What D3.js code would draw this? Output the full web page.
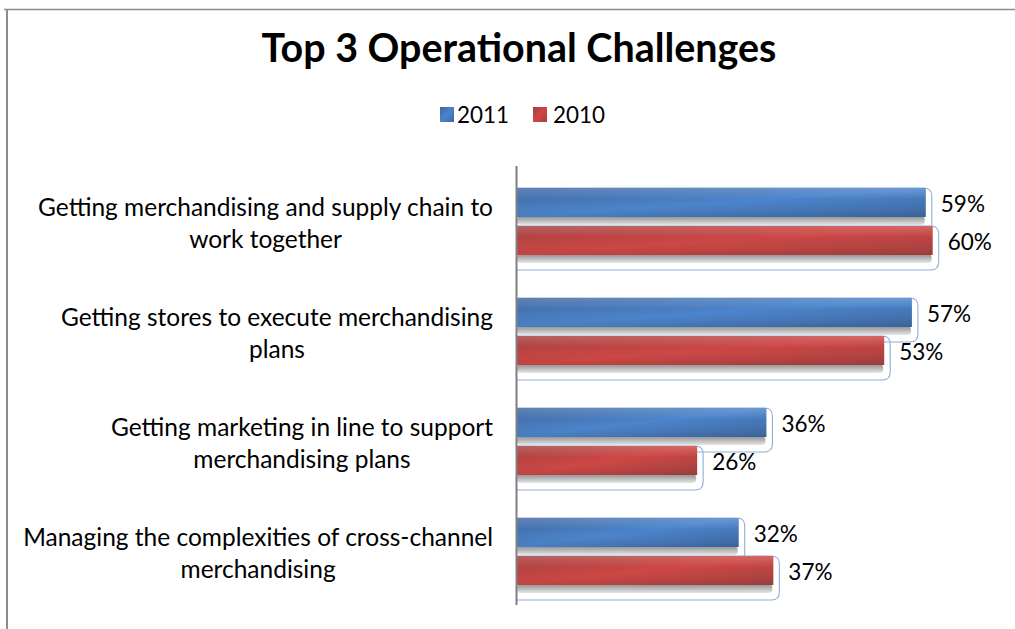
<!DOCTYPE html>
<html>
<head>
<meta charset="utf-8">
<script src="https://cdn.jsdelivr.net/npm/d3@7"></script>
<style>
  html, body { margin: 0; padding: 0; background: #fff; }
  svg { display: block; }
  text { font-family: Lato, "Open Sans", "DejaVu Sans", sans-serif; fill: #000; }
</style>
</head>
<body>
<svg id="chart" width="1015" height="629"></svg>
<script>
// Chart data
const title = "Top 3 Operational Challenges";
const categories = [
  "Getting merchandising and supply chain to work together",
  "Getting stores to execute merchandising plans",
  "Getting marketing in line to support merchandising plans",
  "Managing the complexities of cross-channel merchandising"
];
const categoryLines = [
  ["Getting merchandising and supply chain to", "work together"],
  ["Getting stores to execute merchandising", "plans"],
  ["Getting marketing in line to support", "merchandising plans"],
  ["Managing the complexities of cross-channel", "merchandising"]
];
const seriesNames = ["2011", "2010"];
const values2011 = [59, 57, 36, 32];
const values2010 = [60, 53, 26, 37];

const svg = d3.select("#chart");
const W = 1015, H = 629;

const x = d3.scaleLinear().domain([0, 70]).range([517, 1002]);
const y = d3.scaleBand().domain(categories).range([165, 605]).paddingInner(0).paddingOuter(0);
const ySeries = d3.scaleBand().domain(seriesNames).range([23, 90]).paddingInner(0.237).paddingOuter(0);

const colors = {
  "2011": ["#3f67a0", "#4a84cb", "#3d66a0"],
  "2010": ["#a43f3d", "#cd4644", "#a23f3d"]
};

const defs = svg.append("defs");
seriesNames.forEach(s => {
  const g = defs.append("linearGradient").attr("id", "grad" + s)
    .attr("x1", "0").attr("y1", "0").attr("x2", "1").attr("y2", "1");
  g.append("stop").attr("offset", "0%").attr("stop-color", colors[s][0]);
  g.append("stop").attr("offset", "50%").attr("stop-color", colors[s][1]);
  g.append("stop").attr("offset", "100%").attr("stop-color", colors[s][2]);
  const sq = defs.append("linearGradient").attr("id", "sq" + s)
    .attr("x1", "0").attr("y1", "0").attr("x2", "1").attr("y2", "1");
  sq.append("stop").attr("offset", "0%").attr("stop-color", colors[s][0]);
  sq.append("stop").attr("offset", "50%").attr("stop-color", colors[s][1]);
  sq.append("stop").attr("offset", "100%").attr("stop-color", colors[s][2]);
});
const sh = defs.append("linearGradient").attr("id", "shadow")
  .attr("x1", "0").attr("y1", "0").attr("x2", "0").attr("y2", "1");
sh.append("stop").attr("offset", "0%").attr("stop-color", "#8f8f8f");
sh.append("stop").attr("offset", "45%").attr("stop-color", "#b4b4b4");
sh.append("stop").attr("offset", "100%").attr("stop-color", "#e6e6e6");
const topHi = defs.append("linearGradient").attr("id", "tophi")
  .attr("x1", "0").attr("y1", "0").attr("x2", "0").attr("y2", "1");
topHi.append("stop").attr("offset", "0%").attr("stop-color", "#fff").attr("stop-opacity", 0.18);
topHi.append("stop").attr("offset", "40%").attr("stop-color", "#fff").attr("stop-opacity", 0);
topHi.append("stop").attr("offset", "100%").attr("stop-color", "#000").attr("stop-opacity", 0.05);

// Frame
svg.append("line").attr("x1", 4).attr("x2", W).attr("y1", 9.5).attr("y2", 9.5)
  .attr("stroke", "#8c8c8c").attr("stroke-width", 1.5);
svg.append("line").attr("x1", 7).attr("x2", 7).attr("y1", 9).attr("y2", H)
  .attr("stroke", "#8c8c8c").attr("stroke-width", 2);

// Fit a text element to a target width by adjusting its font size
function fit(sel, target) {
  const node = sel.node();
  const fs = parseFloat(sel.attr("font-size"));
  const w = node.getComputedTextLength();
  sel.attr("font-size", (fs * target / w).toFixed(2));
}

// Title
const t = svg.append("text").attr("x", 519).attr("y", 62)
  .attr("text-anchor", "middle").attr("font-weight", "bold").attr("font-size", 34)
  .text(title);
fit(t, 515);

// Legend
const legend = svg.append("g");
const legendItems = [
  { name: "2011", sx: 440, tx: 457 },
  { name: "2010", sx: 533, tx: 553 }
];
legendItems.forEach(d => {
  legend.append("rect").attr("x", d.sx).attr("y", 107).attr("width", 14).attr("height", 15)
    .attr("fill", "url(#sq" + d.name + ")");
  const lt = legend.append("text").attr("x", d.tx).attr("y", 123).attr("font-size", 23).text(d.name);
  fit(lt, 52);
});

const series = [
  { name: "2011", values: values2011 },
  { name: "2010", values: values2010 }
];

const plot = svg.append("g");

// Outlines (drawn first so bars sit on top)
series.forEach(s => {
  s.values.forEach((v, i) => {
    const top = y(categories[i]) + ySeries(s.name);
    const bh = ySeries.bandwidth();
    const end = x(v);
    const bottom = top + bh + 15;
    const r = 8, ox = end + 6;
    const p = d3.path();
    p.moveTo(x(0), top);
    p.lineTo(end - 2, top);
    p.quadraticCurveTo(ox, top, ox, top + r);
    p.lineTo(ox, bottom - r);
    p.quadraticCurveTo(ox, bottom, ox - r, bottom);
    p.lineTo(x(0), bottom);
    plot.append("path").attr("d", p.toString()).attr("fill", "none")
      .attr("stroke", "#8eaedb").attr("stroke-width", 1.1);
  });
});

// Shadows and bars
series.forEach(s => {
  s.values.forEach((v, i) => {
    const top = y(categories[i]) + ySeries(s.name);
    const bh = ySeries.bandwidth();
    plot.append("rect").attr("x", x(0)).attr("y", top + bh - 1)
      .attr("width", x(v) - x(0) - 1).attr("height", 9).attr("rx", 4)
      .attr("fill", "url(#shadow)");
    plot.append("rect").attr("x", x(0)).attr("y", top)
      .attr("width", x(v) - x(0)).attr("height", bh)
      .attr("fill", "url(#grad" + s.name + ")");
    plot.append("rect").attr("x", x(0)).attr("y", top)
      .attr("width", x(v) - x(0)).attr("height", bh)
      .attr("fill", "url(#tophi)");
    plot.append("text").attr("x", x(v) + 15).attr("y", top + bh / 2 + 1)
      .attr("dominant-baseline", "central").attr("font-size", 22.5)
      .text(v + "%");
  });
});

// Axis line
svg.append("line").attr("x1", 516.5).attr("x2", 516.5).attr("y1", 166).attr("y2", 605)
  .attr("stroke", "#808080").attr("stroke-width", 2);

// Category labels: each block is right-aligned, its lines centred within it
const probe = svg.append("text").attr("font-size", 23).text(categoryLines[0][0]);
const labelSize = 23 * 455 / probe.node().getComputedTextLength();
probe.remove();
categoryLines.forEach((lines, i) => {
  const c = y(categories[i]) + y.bandwidth() / 2 + 2;
  const txt = svg.append("text").attr("text-anchor", "middle").attr("font-size", labelSize.toFixed(2));
  const spans = lines.map((ln, j) => txt.append("tspan")
    .attr("y", c + (j - (lines.length - 1) / 2) * 32)
    .attr("dominant-baseline", "central")
    .text(ln));
  const maxW = d3.max(spans, sp => sp.node().getComputedTextLength());
  spans.forEach(sp => sp.attr("x", 493 - maxW / 2));
});
</script>
</body>
</html>
